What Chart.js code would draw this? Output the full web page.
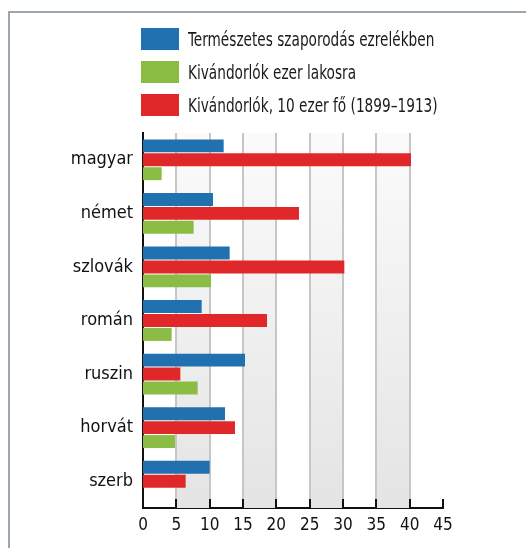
<!DOCTYPE html>
<html lang="hu">
<head>
<meta charset="utf-8">
<script src="https://cdn.jsdelivr.net/npm/chart.js@4/dist/chart.umd.min.js"></script>
<style>
    html, body { margin: 0; padding: 0; background: #fff; }
    #wrap { position: relative; width: 526px; height: 548px; overflow: hidden; }
    #frame {
        position: absolute; left: 8px; top: 11px; right: -10px; bottom: -10px;
        border-left: 2px solid #9ba6ae; border-top: 2px solid #9ba6ae;
    }
    #legend { position: absolute; left: 141px; top: 28px; }
    .item { display: flex; align-items: center; height: 22px; margin-bottom: 11px; }
    .box { width: 38px; height: 22px; margin-right: 9px; flex: none; }
    .item span {
        display: inline-block;
        font-family: 'Liberation Sans Narrow', 'DejaVu Sans Condensed', sans-serif;
        font-size: 20px; color: #1a1a1a; white-space: nowrap;
        transform: scaleX(0.76); transform-origin: left center;
    }
    canvas { position: absolute; left: 0; top: 0; }
</style>
</head>
<body>
<div id="wrap">
    <div id="frame"></div>
    <canvas id="chart" width="526" height="548"></canvas>
    <div id="legend"></div>
</div>
<script>
// Adatok
const categories = ['magyar', 'német', 'szlovák', 'román', 'ruszin', 'horvát', 'szerb'];
const seriesNames = [
    'Természetes szaporodás ezrelékben',
    'Kivándorlók ezer lakosra',
    'Kivándorlók, 10 ezer fő (1899–1913)'
];
const naturalGrowth = [12.1, 10.5, 13.0, 8.8, 15.3, 12.3, 10.0];
const emigrantsPerThousand = [2.8, 7.6, 10.2, 4.3, 8.2, 4.8, null];
const emigrantsTenThousand = [40.2, 23.4, 30.2, 18.6, 5.6, 13.8, 6.4];
const xTicks = [0, 5, 10, 15, 20, 25, 30, 35, 40, 45];

const colors = ['#2170b0', '#8bbd45', '#e0282a'];
const FONT = "'Liberation Sans Narrow', 'DejaVu Sans Condensed', sans-serif";

// sávos háttér (5-10, 15-20, ...)
const bandsPlugin = {
    id: 'bands',
    beforeDatasetsDraw(chart) {
        const { ctx, chartArea: a, scales: { x } } = chart;
        const grad = ctx.createLinearGradient(0, a.top, 0, a.bottom);
        grad.addColorStop(0, '#fbfbfb');
        grad.addColorStop(1, '#e4e4e4');
        ctx.save();
        ctx.fillStyle = grad;
        for (let i = 1; i + 1 < xTicks.length; i += 2) {
            const x0 = x.getPixelForValue(xTicks[i]);
            const x1 = x.getPixelForValue(xTicks[i + 1]);
            ctx.fillRect(x0, a.top, x1 - x0, a.bottom - a.top);
        }
        // szürke rácsvonalak
        ctx.strokeStyle = '#c6c6c6';
        ctx.lineWidth = 2;
        xTicks.slice(1, -1).forEach(v => {
            const px = Math.round(x.getPixelForValue(v));
            ctx.beginPath();
            ctx.moveTo(px, a.top);
            ctx.lineTo(px, a.bottom);
            ctx.stroke();
        });
        ctx.restore();
    },
    afterDatasetsDraw(chart) {
        // befelé álló fekete osztásjelek
        const { ctx, chartArea: a, scales: { x } } = chart;
        ctx.save();
        ctx.strokeStyle = '#111';
        ctx.lineWidth = 2;
        xTicks.slice(1).forEach(v => {
            const px = Math.round(x.getPixelForValue(v));
            ctx.beginPath();
            ctx.moveTo(px, a.bottom - 9);
            ctx.lineTo(px, a.bottom);
            ctx.stroke();
        });
        ctx.restore();
    }
};

const datasets = [
    { label: seriesNames[0], data: naturalGrowth, backgroundColor: colors[0], order: 0 },
    { label: seriesNames[1], data: emigrantsPerThousand, backgroundColor: colors[1], order: 2 },
    { label: seriesNames[2], data: emigrantsTenThousand, backgroundColor: colors[2], order: 1 }
];

new Chart(document.getElementById('chart'), {
    type: 'bar',
    data: { labels: categories, datasets: datasets },
    options: {
        indexAxis: 'y',
        responsive: false,
        animation: false,
        layout: { padding: { top: 133, right: 83, bottom: 0, left: 0 } },
        datasets: { bar: { categoryPercentage: 0.78, barPercentage: 0.93 } },
        plugins: { legend: { display: false }, tooltip: { enabled: false } },
        scales: {
            x: {
                min: 0, max: 45,
                afterBuildTicks: s => { s.ticks = xTicks.map(v => ({ value: v })); },
                afterFit: s => { s.height = 40; },
                grid: { display: false, drawTicks: false },
                border: { display: true, color: '#111', width: 2 },
                ticks: { padding: 7, color: '#111', font: { family: FONT, size: 17 } }
            },
            y: {
                afterFit: s => { s.width = 143; },
                grid: { display: false, drawTicks: false },
                border: { display: true, color: '#111', width: 2 },
                ticks: { padding: 10, color: '#111', font: { family: FONT, size: 18 } }
            }
        }
    },
    plugins: [bandsPlugin]
});

// jelmagyarázat
const legend = document.getElementById('legend');
datasets.forEach(ds => {
    const item = document.createElement('div');
    item.className = 'item';
    const box = document.createElement('div');
    box.className = 'box';
    box.style.background = ds.backgroundColor;
    const txt = document.createElement('span');
    txt.textContent = ds.label;
    item.appendChild(box);
    item.appendChild(txt);
    legend.appendChild(item);
});
</script>
</body>
</html>
